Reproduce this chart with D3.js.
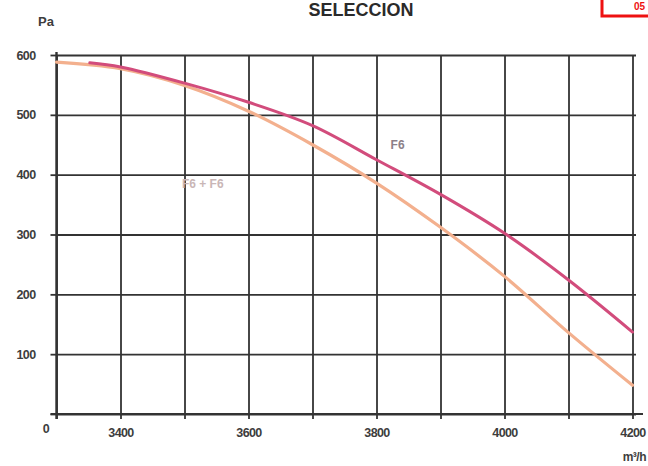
<!DOCTYPE html>
<html><head><meta charset="utf-8">
<script src="https://cdn.jsdelivr.net/npm/d3@7"></script>
<style>
html,body{margin:0;padding:0;background:#fff;overflow:hidden}
svg{display:block}
text{font-family:"Liberation Sans Narrow","Arial Narrow","Liberation Sans",Arial,sans-serif;font-weight:bold}
</style></head>
<body>
<svg id="c" width="648" height="466"></svg>
<script>
// ---- data ----
const xTicks = [3300, 3400, 3500, 3600, 3700, 3800, 3900, 4000, 4100, 4200];
const xTickLabels = ["0", "3400", "", "3600", "", "3800", "", "4000", "", "4200"];
const yTicks = [0, 100, 200, 300, 400, 500, 600];
const yTickLabels = ["", "100", "200", "300", "400", "500", "600"];
const f6Flow = [3352, 3400, 3500, 3600, 3700, 3800, 3900, 4000, 4100, 4200];
const f6Pa = [587, 580, 553, 521, 482, 425, 367, 302, 224, 137];
const f6f6Flow = [3300, 3400, 3500, 3600, 3700, 3800, 3900, 4000, 4100, 4200];
const f6f6Pa = [588, 577, 549, 506, 450, 386, 312, 230, 136, 48];
const title = "SELECCION";
const yUnit = "Pa";
const xUnit = "m³/h";
const seriesNames = ["F6", "F6 + F6"];
const boxText = "05";

(function () {
// ---- layout ----
const svg = d3.select("#c");
const pL = 56.5, pR = 632.5, pT = 55, pB = 414;
const x = d3.scaleLinear().domain([3300, 4200]).range([pL, pR]);
const y = d3.scaleLinear().domain([0, 600]).range([pB, pT]);
const gridColor = "#333";
const labelColor = "#3d3d3d";

// vertical grid lines
const gx = svg.append("g").attr("transform", `translate(0,${pB})`)
  .call(d3.axisBottom(x).tickValues(xTicks).tickSizeInner(-(pB - pT)).tickSizeOuter(0).tickFormat(""));
gx.select(".domain").remove();
gx.selectAll("line").attr("stroke", gridColor).attr("stroke-width", 1.8);

// horizontal grid lines
const gy = svg.append("g").attr("transform", `translate(${pL},0)`)
  .call(d3.axisRight(y).tickValues(yTicks).tickSizeInner(636 - pL).tickSizeOuter(0).tickFormat(""));
gy.select(".domain").remove();
gy.selectAll("line").attr("stroke", gridColor).attr("stroke-width", 1.8);

// bottom axis with labels and short ticks
const ax = svg.append("g").attr("transform", `translate(0,${pB})`)
  .call(d3.axisBottom(x).tickValues(xTicks).tickSizeInner(5).tickSizeOuter(0).tickPadding(9)
    .tickFormat((d, i) => xTickLabels[i]));
ax.attr("font-family", null).attr("font-size", null);
ax.select(".domain").attr("d", `M${pL - 6},0H643`).attr("stroke", gridColor).attr("stroke-width", 2.2);
ax.selectAll("line").attr("stroke", gridColor).attr("stroke-width", 1.8);
ax.selectAll("text").attr("fill", labelColor).attr("font-size", 12.5).attr("letter-spacing", -0.6);
ax.selectAll(".tick").filter(d => d === 3300).select("text")
  .attr("transform", "translate(-11,-4)");

// left axis with labels and short ticks
const ay = svg.append("g").attr("transform", `translate(${pL},0)`)
  .call(d3.axisLeft(y).tickValues(yTicks).tickSizeInner(6).tickSizeOuter(0).tickPadding(15)
    .tickFormat((d, i) => yTickLabels[i]));
ay.attr("font-family", null).attr("font-size", null);
ay.select(".domain").attr("d", `M0,${pT - 3}V${pB + 5}`).attr("stroke", gridColor).attr("stroke-width", 2.4);
ay.selectAll("line").attr("stroke", gridColor).attr("stroke-width", 1.8);
ay.selectAll("text").attr("fill", labelColor).attr("font-size", 12.5).attr("letter-spacing", -0.6);

// curves
const line = d3.line().x(d => x(d[0])).y(d => y(d[1])).curve(d3.curveCatmullRom.alpha(0.5));
const dF6F6 = f6f6Flow.map((v, i) => [v, f6f6Pa[i]]);
const dF6 = f6Flow.map((v, i) => [v, f6Pa[i]]);
svg.append("path").attr("d", line(dF6F6)).attr("fill", "none")
  .attr("stroke", "#f3b08e").attr("stroke-width", 3.2).attr("stroke-linecap", "round");
svg.append("path").attr("d", line(dF6)).attr("fill", "none")
  .attr("stroke", "#d24c7c").attr("stroke-width", 3).attr("stroke-linecap", "round");

// series labels
svg.append("text").attr("x", x(3822)).attr("y", y(443)).attr("font-size", 12)
  .attr("fill", "#8c8088").attr("font-weight", "normal").text(seriesNames[0]);
svg.append("text").attr("x", x(3496)).attr("y", y(378)).attr("font-size", 12)
  .attr("fill", "#c9b6b6").attr("font-weight", "normal").text(seriesNames[1]);

// title and units
svg.append("text").attr("x", 361).attr("y", 16).attr("text-anchor", "middle")
  .attr("font-size", 18).attr("fill", "#2a2a2a").text(title);
svg.append("text").attr("x", 38).attr("y", 26).attr("font-size", 13)
  .attr("fill", labelColor).text(yUnit);
svg.append("text").attr("x", 646).attr("y", 461).attr("text-anchor", "end")
  .attr("font-size", 12).attr("letter-spacing", -0.5).attr("fill", labelColor).text(xUnit);

// red box at top right
svg.append("rect").attr("x", 602).attr("y", -10).attr("width", 60).attr("height", 26)
  .attr("fill", "none").attr("stroke", "#ee1111").attr("stroke-width", 3);
svg.append("text").attr("x", 645).attr("y", 10).attr("text-anchor", "end").attr("font-size", 10)
  .attr("fill", "#ee1111").text(boxText);
})();
</script>
</body></html>
